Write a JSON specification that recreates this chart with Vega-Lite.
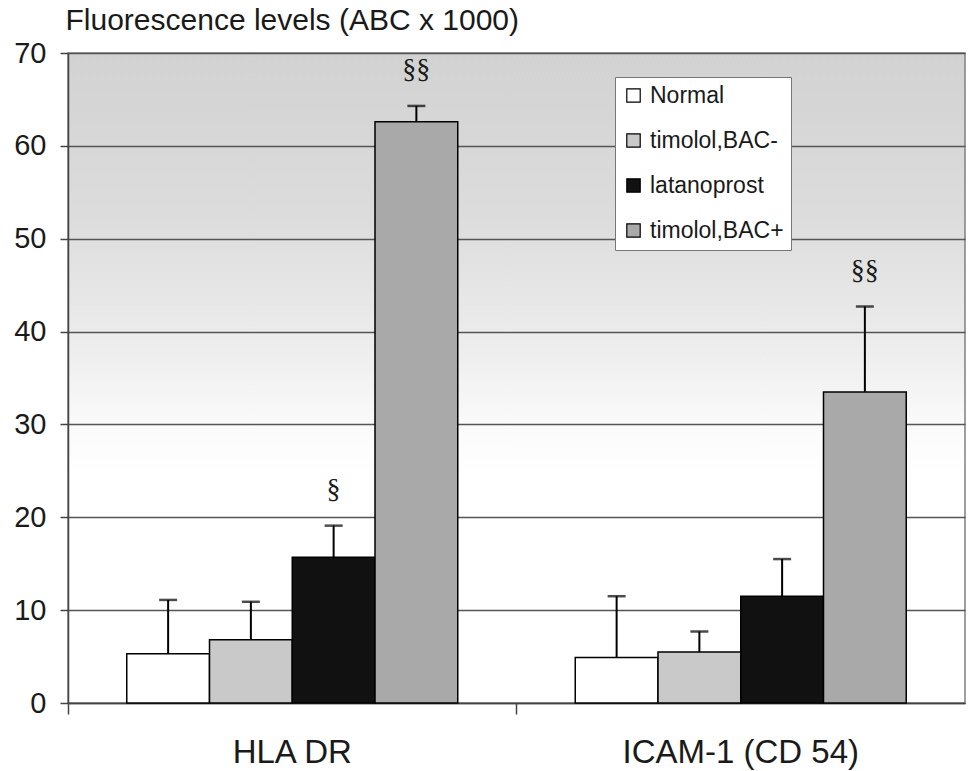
{
  "$schema": "https://vega.github.io/schema/vega-lite/v6.json",
  "width": 897,
  "height": 650,
  "autosize": {"type": "none"},
  "padding": {"left": 68, "top": 53, "right": 5, "bottom": 68},
  "background": "white",
  "config": {
    "font": "Liberation Sans",
    "view": {
      "fill": {"gradient": "linear", "x1": 0, "y1": 0, "x2": 0, "y2": 1,
        "stops": [
          {"offset": 0, "color": "#d2d2d2"},
          {"offset": 0.25, "color": "#dcdcdc"},
          {"offset": 0.45, "color": "#ededed"},
          {"offset": 0.58, "color": "#fbfbfb"},
          {"offset": 0.65, "color": "#ffffff"},
          {"offset": 1, "color": "#ffffff"}
        ]},
      "stroke": "#808080",
      "strokeWidth": 1.5
    }
  },
  "data": {
    "values": [
      {"marker": "HLA DR", "group": "Normal", "value": 5.3, "upper": 11.1, "sig": null},
      {"marker": "HLA DR", "group": "timolol,BAC-", "value": 6.8, "upper": 10.9, "sig": null},
      {"marker": "HLA DR", "group": "latanoprost", "value": 15.7, "upper": 19.1, "sig": "§"},
      {"marker": "HLA DR", "group": "timolol,BAC+", "value": 62.6, "upper": 64.3, "sig": "§§"},
      {"marker": "ICAM-1 (CD 54)", "group": "Normal", "value": 4.9, "upper": 11.5, "sig": null},
      {"marker": "ICAM-1 (CD 54)", "group": "timolol,BAC-", "value": 5.5, "upper": 7.7, "sig": null},
      {"marker": "ICAM-1 (CD 54)", "group": "latanoprost", "value": 11.5, "upper": 15.5, "sig": null},
      {"marker": "ICAM-1 (CD 54)", "group": "timolol,BAC+", "value": 33.5, "upper": 42.7, "sig": "§§"}
    ]
  },
  "encoding": {
    "x": {
      "field": "marker", "type": "nominal",
      "scale": {"paddingInner": 0, "paddingOuter": 0},
      "axis": {
        "title": null, "labelAngle": 0, "labelFontSize": 33, "labelColor": "#1a1a1a",
        "labelPadding": 22, "labelLimit": 400, "bandPosition": 0, "tickSize": 11, "tickColor": "#444",
        "tickWidth": 1.5, "domainColor": "#444", "domainWidth": 1.5, "grid": false
      }
    },
    "xOffset": {
      "field": "group", "type": "nominal",
      "scale": {"domain": ["Normal", "timolol,BAC-", "latanoprost", "timolol,BAC+"], "paddingInner": 0, "paddingOuter": 0.71}
    }
  },
  "layer": [
    {
      "mark": {"type": "bar", "stroke": "black", "strokeWidth": 1.5},
      "encoding": {
        "y": {
          "field": "value", "type": "quantitative",
          "scale": {"domain": [0, 70], "nice": false},
          "axis": {
            "values": [0, 10, 20, 30, 40, 50, 60, 70],
            "title": "Fluorescence levels (ABC x 1000)",
            "titleAngle": 0, "titleAlign": "left", "titleBaseline": "alphabetic",
            "titleX": -3, "titleY": -24, "titleFontSize": 30, "titleFontWeight": "normal",
            "titleColor": "#1a1a1a", "titleLimit": 600,
            "labelFontSize": 29, "labelColor": "#1a1a1a", "labelPadding": 14,
            "tickSize": 8, "tickColor": "#444", "tickWidth": 1.5,
            "domainColor": "#444", "domainWidth": 1.5,
            "grid": true, "gridColor": "#555", "gridWidth": 1.5
          }
        },
        "fill": {
          "field": "group", "type": "nominal",
          "scale": {
            "domain": ["Normal", "timolol,BAC-", "latanoprost", "timolol,BAC+"],
            "range": ["#ffffff", "#c9c9c9", "#111111", "#a9a9a9"]
          },
          "legend": {
            "title": null, "orient": "none", "legendX": 547, "legendY": 24,
            "fillColor": "white", "strokeColor": "#777", "padding": 7,
            "symbolType": "square", "symbolSize": 180, "symbolStrokeColor": "black",
            "symbolStrokeWidth": 1.2, "labelFontSize": 23, "labelColor": "#1a1a1a",
            "labelOffset": 5, "rowPadding": 21, "labelLimit": 300
          }
        }
      }
    },
    {
      "mark": {"type": "rule", "color": "black", "strokeWidth": 2},
      "encoding": {
        "y": {"field": "value", "type": "quantitative"},
        "y2": {"field": "upper"}
      }
    },
    {
      "mark": {"type": "tick", "color": "black", "thickness": 2.5, "size": 18},
      "encoding": {
        "y": {"field": "upper", "type": "quantitative"}
      }
    },
    {
      "transform": [{"filter": "datum.sig != null"}],
      "mark": {"type": "text", "font": "Liberation Serif", "fontSize": 28, "color": "#1a1a1a", "baseline": "middle", "dy": -36},
      "encoding": {
        "y": {"field": "upper", "type": "quantitative"},
        "text": {"field": "sig"}
      }
    }
  ]
}
